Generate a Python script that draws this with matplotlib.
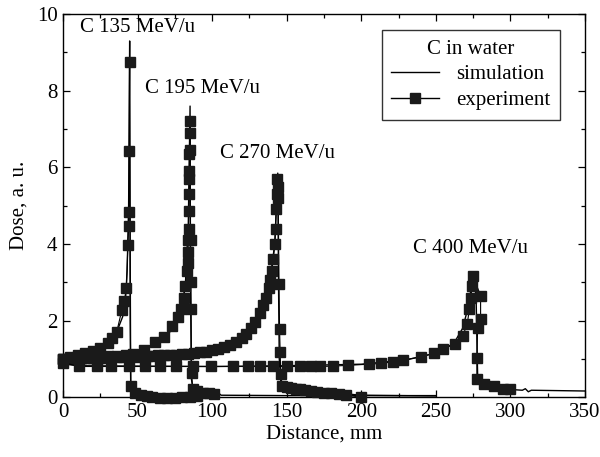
import matplotlib
matplotlib.use("Agg")
import matplotlib.pyplot as plt
from matplotlib.ticker import MultipleLocator
from matplotlib.lines import Line2D

plt.rcParams['font.family'] = ['Liberation Serif', 'DejaVu Serif']
plt.rcParams['mathtext.fontset'] = 'stix'

# ---------------- data ----------------
# C 135 MeV/u
exp135_x = [0, 5, 10, 15, 20, 25, 30, 33, 36, 39.5, 41, 42.5, 43.5, 44.0, 44.2, 44.4, 44.6,
            45.5, 48, 52, 56, 60, 65, 70, 75, 80, 85, 90]
exp135_y = [1.0, 1.05, 1.1, 1.15, 1.2, 1.27, 1.42, 1.55, 1.7, 2.28, 2.5, 2.84, 3.96, 4.46, 4.83, 6.43, 8.74,
            0.28, 0.1, 0.05, 0.02, 0.0, -0.02, -0.02, -0.01, 0.0, 0.0, 0.02]
sim135_x = [0, 10, 20, 30, 35, 40, 42, 43, 44, 44.7, 45.0, 45.4, 46, 50, 60, 80, 100]
sim135_y = [1.0, 1.08, 1.2, 1.4, 1.6, 2.1, 2.6, 3.3, 5.0, 9.3, 2.0, 0.3, 0.15, 0.07, 0.04, 0.04, 0.04]

# C 195 MeV/u
exp195_x = [0, 6, 12, 18, 24, 30, 36, 42, 47, 54, 62, 68, 73, 77, 79, 81, 82, 83, 83.5, 83.8,
            84.0, 84.2, 84.4, 84.5, 84.6, 84.7, 84.8, 84.9, 85.0, 85.1,
            85.5, 85.7, 85.9, 86.2, 87, 90, 94, 98, 101]
exp195_y = [1.0, 1.0, 1.02, 1.03, 1.05, 1.07, 1.08, 1.1, 1.12, 1.23, 1.44, 1.57, 1.86, 2.1, 2.3, 2.6, 2.9, 3.3, 3.5, 3.8,
            4.1, 4.4, 4.85, 5.3, 5.7, 5.9, 6.35, 6.45, 6.9, 7.2,
            4.1, 3.0, 2.3, 0.62, 0.2, 0.15, 0.12, 0.1, 0.08]
sim195_x = [0, 20, 40, 60, 70, 78, 82, 84, 85.2, 85.5, 86, 87, 95, 103, 106, 150, 250]
sim195_y = [1.0, 1.03, 1.1, 1.35, 1.6, 2.1, 2.9, 4.5, 7.6, 3.0, 0.5, 0.25, 0.18, 0.15, 0.05, 0.04, 0.04]

# C 270 MeV/u
exp270_x = [0, 4, 8, 12, 16, 20, 24, 28, 32, 36, 40, 44, 48, 52, 56, 60, 64, 68, 72, 76, 80, 84, 88,
            92, 96, 100, 104, 108, 112, 116, 120, 123, 126, 129, 132, 134, 136, 138, 139, 140, 141,
            142, 142.5, 143, 143.3, 143.6, 144, 144.3,
            144.8, 145.2, 145.6, 146, 147, 150, 153, 156, 159, 162, 166, 170, 175, 180, 185, 190, 200]
exp270_y = [1.0, 1.0, 1.01, 1.01, 1.02, 1.02, 1.03, 1.03, 1.04, 1.04, 1.05, 1.05, 1.06, 1.07, 1.07, 1.08,
            1.09, 1.09, 1.1, 1.11, 1.12, 1.13, 1.15, 1.17, 1.19, 1.22, 1.26, 1.31, 1.37, 1.45, 1.55, 1.65,
            1.8, 1.97, 2.2, 2.4, 2.6, 2.85, 3.05, 3.3, 3.6, 4.0, 4.4, 4.9, 5.3, 5.7, 5.5, 5.2,
            2.95, 1.78, 1.18, 0.6, 0.3, 0.26, 0.25, 0.22, 0.2, 0.18, 0.16, 0.14, 0.12, 0.1, 0.08, 0.05, 0.0]
sim270_x = [0, 50, 100, 120, 130, 138, 142, 144, 144.5, 145, 146, 150, 170, 200, 250]
sim270_y = [1.0, 1.05, 1.22, 1.55, 2.0, 2.85, 4.0, 5.85, 3.0, 1.0, 0.4, 0.28, 0.15, 0.05, 0.03]

# C 400 MeV/u
exp400_x = [0, 11, 23, 32, 44, 55, 65, 76, 87, 99, 114, 124, 132, 141, 150, 159, 166, 172, 181, 191,
            205, 213, 221, 228, 240, 249, 255, 263, 268, 271, 272.5, 273.5, 274.3, 275,
            280, 280, 278, 277.5, 277.5, 282, 289, 295, 300]
exp400_y = [0.9, 0.8, 0.8, 0.8, 0.8, 0.8, 0.8, 0.8, 0.8, 0.8, 0.8, 0.8, 0.8, 0.8, 0.8, 0.8, 0.8, 0.8,
            0.81, 0.83, 0.86, 0.88, 0.92, 0.97, 1.05, 1.15, 1.25, 1.4, 1.6, 1.9, 2.3, 2.6, 2.9, 3.15,
            2.65, 2.05, 1.8, 1.02, 0.47, 0.34, 0.3, 0.22, 0.2]
sim400_x = [0, 10, 100, 150, 200, 230, 250, 262, 268, 272, 275, 277, 277.5, 278, 280, 290, 300, 308,
            310, 312, 314, 350]
sim400_y = [0.88, 0.82, 0.8, 0.82, 0.86, 0.97, 1.15, 1.4, 1.8, 2.4, 3.25, 2.6, 1.5, 0.6, 0.35, 0.25,
            0.2, 0.18, 0.22, 0.14, 0.18, 0.16]

labels = ["C 135 MeV/u", "C 195 MeV/u", "C 270 MeV/u", "C 400 MeV/u"]
label_x = [11.5, 55, 105.5, 235]
label_y = [9.66, 8.06, 6.35, 3.88]

# ---------------- plot ----------------
FS = 15
fig = plt.figure(figsize=(6.0, 4.57), dpi=100)
ax = fig.add_axes([0.105, 0.131, 0.870, 0.838])

sims = [(sim135_x, sim135_y), (sim195_x, sim195_y), (sim270_x, sim270_y), (sim400_x, sim400_y)]
exps = [(exp135_x, exp135_y), (exp195_x, exp195_y), (exp270_x, exp270_y), (exp400_x, exp400_y)]

for sx, sy in sims:
    ax.plot(sx, sy, color='black', lw=1.0, zorder=2)
for ex, ey in exps:
    ax.plot(ex, ey, color='black', lw=0.8, marker='s', markersize=7.4,
            markerfacecolor='#1a1a1a', markeredgecolor='#1a1a1a', zorder=3, clip_on=False)

for t, lx, ly in zip(labels, label_x, label_y):
    ax.text(lx, ly, t, fontsize=FS, ha='left', va='center')

ax.set_xlim(0, 350)
ax.set_ylim(0, 10)
ax.xaxis.set_major_locator(MultipleLocator(50))
ax.xaxis.set_minor_locator(MultipleLocator(25))
ax.yaxis.set_major_locator(MultipleLocator(2))
ax.yaxis.set_minor_locator(MultipleLocator(1))
ax.tick_params(which='both', direction='in', top=True, right=True, labelsize=FS)
ax.tick_params(which='major', length=5, width=0.9, pad=4)
ax.tick_params(which='minor', length=3, width=0.9)
for s in ax.spines.values():
    s.set_linewidth(1.0)

ax.set_xlabel("Distance, mm", fontsize=FS, labelpad=2)
ax.set_ylabel("Dose, a. u.", fontsize=FS, labelpad=6)

handles = [Line2D([], [], color='black', lw=1.0),
           Line2D([], [], color='black', lw=1.0, marker='s', markersize=6.5,
                  markerfacecolor='#1a1a1a', markeredgecolor='#1a1a1a')]
leg = ax.legend(handles, ["simulation", "experiment"], title="C in water",
                loc='upper left', bbox_to_anchor=(0.611, 0.958), fontsize=FS,
                title_fontsize=FS, frameon=True, fancybox=False, edgecolor='black',
                handlelength=2.3, borderpad=0.45, labelspacing=0.3, handletextpad=0.8,
                borderaxespad=0)
leg.get_frame().set_linewidth(1.0)

fig.savefig("out.png", dpi=100)
